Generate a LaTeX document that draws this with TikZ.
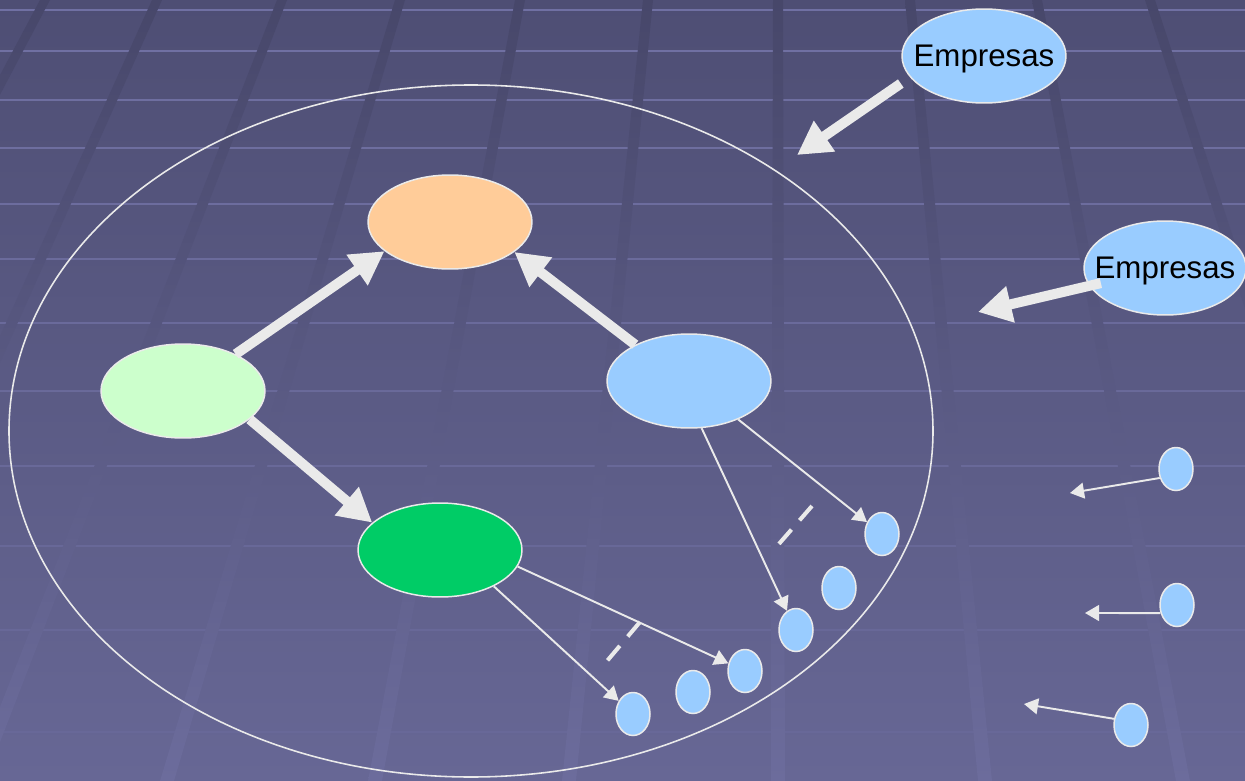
\documentclass[tikz,border=0pt]{standalone}
\usepackage{fontspec}
\setmainfont{Liberation Sans}
\usepackage{tikz}
\usetikzlibrary{shapes.geometric}
\usetikzlibrary{calc,arrows.meta}

\definecolor{bgtop}{HTML}{4E4E74}
\definecolor{bgbot}{HTML}{676795}
\definecolor{bandtop}{HTML}{47476A}
\definecolor{bandbot}{HTML}{6C6C9C}
\definecolor{gridline}{HTML}{9494D4}
\definecolor{linegray}{HTML}{EAEAEA}
\definecolor{peach}{HTML}{FFCC99}
\definecolor{mint}{HTML}{CCFFCC}
\definecolor{leaf}{HTML}{00CC66}
\definecolor{sky}{HTML}{99CCFF}

\begin{document}
\begin{tikzpicture}[x=0.02cm,y=-0.02cm,
		every node/.style={draw=linegray,ellipse,line width=0.85pt,inner sep=0pt},
		bignode/.style={minimum width=3.28cm,minimum height=1.88cm},
		smallnode/.style={fill=sky,minimum width=0.68cm,minimum height=0.86cm},
		emlabel/.style={draw=none,rectangle,font=\fontsize{17.8}{20}\selectfont,text depth=0pt},
		bigarrow/.style={draw=linegray,line width=5.7pt,-{Triangle[length=19pt,width=20pt]}},
		thinarrow/.style={draw=linegray,line width=1.1pt,-{Triangle[length=8pt,width=9pt]}},
		dashline/.style={draw=linegray,line width=2.3pt,dash pattern=on 10.8pt off 7pt}]
				\useasboundingbox (0,0) rectangle (1245,781);
				%background: shaded floor, light grid lines, darker bands
				\begin{scope}
				\clip (0,0) rectangle (1245,781);
				\shade[top color=bgtop,bottom color=bgbot] (0,0) rectangle (1245,781);
				\foreach \y in {10,51,100,148,204,259,323,391,466,546,630,732}{
					\pgfmathsetmacro{\op}{0.5-0.45*\y/781}
					\draw[gridline,opacity=\op,line width=1.7pt] (0,\y) -- (1245,\y);
					}
				\foreach \tx/\bx in {45/-369,157/-194,282/-22,400/167,520/375,648/569,778/778,910/985,1037/1183,1150/1405}{
					\shade[top color=bandtop,bottom color=bandbot] (\tx-5,0) -- (\tx+5,0) -- (\bx+7,781) -- (\bx-7,781) -- cycle;
					}
				\end{scope}

				\draw[linegray,line width=0.9pt] (471,431) ellipse [x radius=462,y radius=346];

				%big ellipses placed by hand
				\node[bignode,fill=peach] (or) at (450,222) {};
				\node[bignode,fill=mint] (lg) at (183,391) {};
				\node[bignode,fill=sky] (bl) at (689,381) {};
				\node[bignode,fill=leaf] (gr) at (440,550) {};
				\node[bignode,fill=sky,label={[emlabel]center:Empresas}] (e1) at (984,56) {};
				\node[bignode,fill=sky,minimum width=3.24cm,label={[emlabel]center:Empresas}] (e2) at (1165,268) {};
				%% small ellipses drawn with a loop
				\foreach \n/\x/\y in {s1/882/534,s2/839/588,s3/796/630,s4/745/671,s5/693/692,s6/633/714,r1/1176/469,r2/1177/605,r3/1131/725}{
					\node[smallnode] (\n) at (\x,\y) {};
					}
				\coordinate (t1) at (797,155);
				\coordinate (t2) at (978,312);
				\coordinate (q1) at (1070,493);
				\coordinate (q2) at (1085,613);
				\coordinate (q3) at (1024,704);
				\coordinate (d1) at (812,506);
				\coordinate (d2) at (778,545);
				\coordinate (d3) at (640,622);
				\coordinate (d4) at (607,661);

				\draw[bigarrow] (lg.35) -- (or.204);
				\draw[bigarrow] (bl.146) -- (or.-25);
				\draw[bigarrow] (lg.-23) -- (gr.158);
				\draw[bigarrow,shorten <=6.3pt] (e1.196) -- (t1);
				\draw[bigarrow,shorten <=37.5pt] (e2.center) -- (t2);

				\draw[thinarrow] (bl.-38) -- (s1);
				\draw[thinarrow] (bl.-75) -- (s3);
				\draw[thinarrow] (gr.-12) -- (s4);
				\draw[thinarrow] (gr.-34) -- (s6);
				\draw[thinarrow] (r1.209) -- (q1);
				\draw[thinarrow] (r2.206) -- (q2);
				\draw[thinarrow] (r3.160) -- (q3);

				\draw[dashline] (d1) -- (d2);
				\draw[dashline] (d3) -- (d4);
				\end{tikzpicture}
\end{document}
